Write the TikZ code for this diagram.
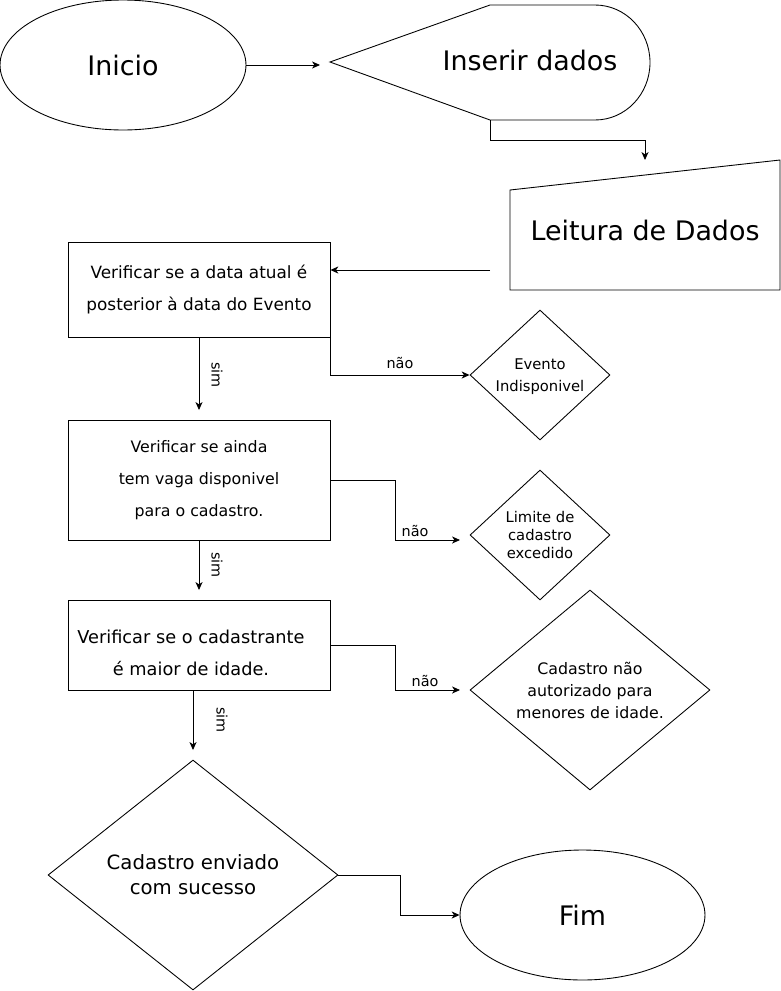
\documentclass[tikz,border=0pt]{standalone}
\usepackage{fontspec}
\setmainfont{DejaVu Sans}
\usetikzlibrary{shapes.geometric,arrows.meta}

\tikzset{
  flow/.style={-{Stealth[length=4.5pt,width=4pt,inset=1.3pt]}},
  procbox/.style={draw, rectangle, minimum width=5.24cm, inner sep=0pt, align=center},
  decision/.style={draw, diamond, inner sep=0pt, align=center},
  terminal/.style={draw, ellipse, minimum height=2.6cm, inner sep=0pt},
  bigtxt/.style={font=\fontsize{15.3}{18}\selectfont},
  edgelbl/.style={font=\fontsize{8.2}{10}\selectfont},
}

\begin{document}
\begin{tikzpicture}[x=0.02cm, y=-0.02cm, line width=0.5pt]
\useasboundingbox (0,0) rectangle (781,991);

% Start
\node[terminal, bigtxt, minimum width=4.92cm] (inicio) at (123,65) {Inicio};
\coordinate (insIn) at (320,65);
\draw[flow] (inicio.east) -- (insIn);

% Display shape: input of data
\draw (330,62) -- (490,5) -- (595,5) .. controls (625.4,5) and (650,30.7) .. (650,62.5)
  .. controls (650,94.3) and (625.4,120) .. (595,120) -- (490,120) -- cycle;
\node[bigtxt] (inserir) at (530,60) {Inserir dados};
\coordinate (insOut) at (490,120);
\coordinate (leitIn) at (645,160);
\draw[flow] (insOut) -- ++(0,20) -| (leitIn);

% Manual input shape
\draw (510,190) -- (780,160) -- (780,290) -- (510,290) -- cycle;
\node[bigtxt] (leitura) at (645,230) {Leitura de Dados};
\coordinate (leitOut) at (490,270);

% Check 1: event date
\node[procbox, minimum height=1.9cm, font=\fontsize{9.6}{18.7}\selectfont] (chkData) at (199,289.5)
  {Verificar se a data atual é\\posterior à data do Evento};
\draw[flow] (leitOut) -- (leitOut -| chkData.east);

\node[decision, minimum width=2.8cm, minimum height=2.6cm] (evento) at (540,375) {};
\node[font=\fontsize{8.4}{12.5}\selectfont, align=center] (eventoTxt) at (540,377) {Evento\\Indisponivel};
\coordinate (sim1) at (199,410);
\draw[flow] (chkData.south) -- (sim1);
\node[edgelbl, rotate=-90] (simA) at (217,375) {sim};
\draw[flow] (chkData.south east) |- (evento.west) node[pos=0.75, above, edgelbl] (naoA) {não};

% Check 2: free places
\node[procbox, minimum height=2.4cm, font=\fontsize{9}{18.1}\selectfont] (chkVaga) at (199,480)
  {Verificar se ainda\\tem vaga disponivel\\para o cadastro.};
\node[decision, minimum width=2.8cm, minimum height=2.6cm, font=\fontsize{8.4}{10.2}\selectfont] (limite) at (540,535)
  {Limite de\\cadastro\\excedido};
\coordinate (limIn) at (460,540);
\draw[flow] (chkVaga.east) -- ++(65,0) |- (limIn);
\node[edgelbl] (naoB) at (415,531) {não};
\coordinate (sim2) at (199,590);
\draw[flow] (chkVaga.south) -- (sim2);
\node[edgelbl, rotate=-90] (simB) at (217,565) {sim};

% Check 3: age
\node[procbox, minimum height=1.8cm] (chkIdade) at (199,645) {};
\node[font=\fontsize{10.1}{18.1}\selectfont, align=center] (chkIdadeTxt) at (191,653)
  {Verificar se o cadastrante\\é maior de idade.};
\node[decision, minimum width=4.8cm, minimum height=4cm, aspect=1.2, font=\fontsize{9}{12.5}\selectfont] (menor) at (590,690)
  {Cadastro não\\autorizado para\\menores de idade.};
\coordinate (menIn) at (460,690);
\draw[flow] (chkIdade.east) -- ++(65,0) |- (menIn);
\node[edgelbl] (naoC) at (425,681) {não};
\coordinate (sim3) at (193,750);
\draw[flow] (sim3 |- chkIdade.south) -- (sim3);
\node[edgelbl, rotate=-90] (simC) at (222,720) {sim};

% Success and end
\node[decision, minimum width=5.8cm, minimum height=4.6cm, aspect=1.26, font=\fontsize{11.2}{14.2}\selectfont] (enviado) at (193,875)
  {Cadastro enviado\\com sucesso};
\node[terminal, bigtxt, minimum width=4.9cm] (fim) at (582.5,915) {Fim};
\draw[flow] (enviado.east) -- ++(62,0) |- (fim.west);

\end{tikzpicture}
\end{document}
